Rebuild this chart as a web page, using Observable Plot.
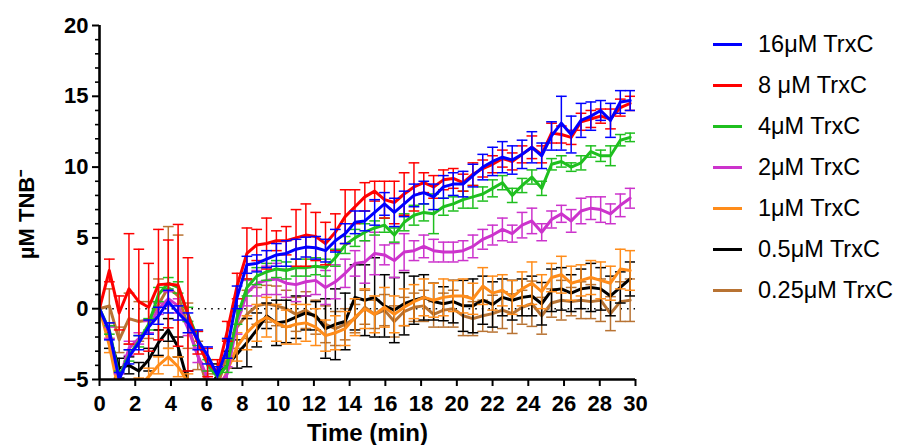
<!DOCTYPE html>
<html><head><meta charset="utf-8">
<script src="https://cdn.jsdelivr.net/npm/d3@7"></script>
<script src="https://cdn.jsdelivr.net/npm/@observablehq/plot@0.6"></script>
<style>
body{margin:0;background:#fff;font-family:"Liberation Sans",Arial,sans-serif;}
#wrap{position:relative;width:907px;height:445px;}
#legend{position:absolute;left:713px;top:24px;}
.row{display:flex;align-items:center;height:41px;}
.sw{width:29px;height:3px;margin-right:16px;}
.lb{font-size:23.5px;color:#000;white-space:nowrap;}
</style></head><body>
<div id="wrap"><div id="chart"></div><div id="legend"></div></div>
<script>
const times = [0,0.55,1.1,1.65,2.2,2.75,3.3,3.85,4.4,4.95,5.5,6.05,6.6,7.15,7.7,8.25,8.8,9.35,9.9,10.45,11,11.55,12.1,12.65,13.2,13.75,14.3,14.85,15.4,15.95,16.5,17.05,17.6,18.15,18.7,19.25,19.8,20.35,20.9,21.45,22,22.55,23.1,23.65,24.2,24.75,25.3,25.85,26.4,26.95,27.5,28.05,28.6,29.15,29.7];

const seriesNames = ["16μM TrxC","8 μM TrxC","4μM TrxC","2μM TrxC","1μM TrxC","0.5μM TrxC","0.25μM TrxC"];
const seriesColors = ["#0000ff","#ff0000","#1fbf1f","#cc33cc","#ff8c1a","#000000","#b87333"];

const trx16Mean = [0,-1.6,-5.0,-3.4,-2.4,-1.3,-0.5,0.5,-0.3,-1.0,-2.2,
  -3.3,-4.7,-2.8,0.8,3.1,3.2,3.5,3.8,3.9,4.2,4.35,
  4.3,4.1,4.8,5.3,6.1,6.2,6.8,7.4,6.8,7.4,8.0,
  8.2,7.9,8.6,8.8,8.8,9.4,10.0,10.4,10.7,10.5,10.9,
  11.4,10.8,12.2,13.1,12.3,13.3,13.6,14.0,13.3,14.6,14.7];
const trx16Sem = [0,0.6,0.5,0.5,0.5,0.5,0.6,0.8,0.5,0.7,0.7,
  0.6,0.6,0.7,0.8,0.6,0.6,0.6,0.8,0.9,0.7,0.7,
  0.8,0.8,0.8,0.7,0.8,0.7,0.9,0.8,1.0,0.9,0.8,
  0.8,0.9,0.8,0.8,0.9,0.8,0.9,1.0,1.1,1.0,1.0,
  1.1,0.9,1.0,1.9,1.3,1.2,1.0,0.7,1.2,0.8,0.7];

const trx8Mean = [0,2.7,-0.3,1.4,0.5,0.1,1.7,1.75,1.65,-0.4,-2.4,
  -3.8,-4.5,-1.6,1.6,3.9,4.5,4.6,4.8,4.8,5.0,5.2,
  5.1,4.6,5.4,6.5,7.2,7.9,8.3,7.7,7.5,8.1,8.6,
  8.9,8.6,9.1,9.2,8.9,9.5,9.9,10.2,10.6,10.4,10.9,
  11.4,10.9,12.4,12.3,12.1,13.2,13.4,13.6,13.4,14.2,14.5];
const trx8Sem = [0,0.8,1.2,3.9,3.7,3.1,3.9,3.1,4.3,4.0,0.8,
  1.0,0.9,0.7,0.9,1.8,1.1,1.8,0.7,1.0,2.0,2.2,
  1.7,1.5,1.3,1.9,1.2,1.0,0.7,1.3,1.5,1.5,1.7,
  0.7,0.8,0.7,0.7,0.6,0.8,0.6,0.6,0.6,0.6,0.6,
  0.8,0.6,0.7,0.6,0.5,0.6,0.6,0.5,0.7,0.6,0.5];

const trx4Mean = [0,-1.5,-4.8,-3.3,-2.3,-1.1,1.0,1.8,1.5,-0.4,-2.1,
  -4.0,-4.8,-4.0,-0.6,1.5,2.3,2.6,2.8,2.7,2.9,2.9,
  3.0,2.9,3.6,4.5,5.0,5.4,5.7,5.9,5.2,6.1,6.6,
  6.8,6.7,7.2,7.4,7.7,7.9,8.1,8.5,8.9,8.0,8.7,
  9.3,8.5,10.2,10.4,10.0,10.3,11.1,10.8,10.8,11.9,12.1];
const trx4Sem = [0,0.3,0.4,0.4,0.4,0.4,0.5,0.4,0.4,0.5,0.5,
  0.4,0.3,0.5,0.5,0.6,0.6,0.6,0.6,0.6,0.6,0.6,
  0.6,0.6,0.6,0.6,0.6,0.6,0.5,0.5,0.5,0.6,0.7,
  0.6,1.4,0.6,0.5,0.6,0.8,0.5,0.6,0.5,0.5,0.5,
  0.5,0.5,0.4,0.4,0.3,0.5,0.4,0.4,0.7,0.4,0.3];

const trx2Mean = [0,-1.7,-5.0,-2.8,-2.1,-1.3,0.0,0.7,0.2,-1.4,-3.3,
  -4.9,-5.5,-4.6,-1.0,1.1,1.8,2.0,2.1,1.8,1.7,1.9,
  2.0,1.5,1.9,2.5,3.2,3.3,3.9,3.8,3.4,4.0,4.1,
  4.4,4.1,4.0,4.0,4.1,4.4,4.9,5.2,5.6,5.3,5.9,
  6.2,5.4,6.3,6.7,6.2,6.9,7.1,7.0,6.7,7.3,7.8];
const trx2Sem = [0,0.4,0.4,0.5,0.4,0.4,0.4,0.5,0.5,0.5,0.5,
  0.5,0.5,0.5,0.8,0.9,0.9,1.0,1.1,1.0,1.2,1.0,
  1.0,1.2,1.2,1.0,0.9,1.5,1.5,0.7,1.2,1.3,0.7,
  0.8,0.8,0.7,0.7,0.7,0.8,0.7,0.7,0.8,0.6,0.9,
  0.9,0.6,0.6,0.6,0.8,0.9,0.8,0.9,0.7,0.8,0.7];

const trx1Mean = [0,-2.6,-6.0,-6.0,-5.5,-4.8,-4.0,-3.4,-4.1,-5.2,-6.0,
  -6.0,-6.0,-4.4,-2.7,-1.7,-1.0,-0.6,-1.0,-1.3,-1.1,-1.0,
  -1.3,-1.9,-1.7,-1.4,-0.6,0.0,-0.4,0.1,-0.4,0.1,0.5,
  0.8,0.6,0.8,0.9,0.9,0.7,1.6,1.1,1.3,0.8,1.4,
  1.8,1.2,2.2,2.4,1.8,2.0,2.2,2.0,1.8,2.8,2.7];
const trx1Sem = [0,0.5,0.5,0.5,0.6,0.6,0.6,0.6,0.7,0.6,0.5,
  0.5,0.5,0.8,1.0,1.2,1.3,1.4,1.3,1.2,1.4,1.3,
  1.3,1.1,1.2,1.2,1.3,1.4,1.3,1.4,1.3,1.3,1.2,
  1.3,1.2,1.3,1.1,1.2,1.1,1.3,1.2,1.1,1.2,1.2,
  1.5,1.2,1.0,1.3,1.2,1.1,1.2,1.3,1.2,1.4,1.4];

const trx05Mean = [0,-2.0,-4.2,-4.0,-4.4,-3.6,-2.4,-1.5,-2.7,-5.2,-5.8,
  -5.8,-4.7,-4.0,-3.2,-2.4,-1.5,-0.5,-1.0,-0.9,-0.6,-0.3,
  -0.5,-1.4,-1.1,-0.9,0.8,0.6,0.8,0.2,-0.1,0.35,0.6,
  0.8,0.5,0.35,0.5,0.2,0.2,0.6,0.3,0.8,0.6,0.8,
  0.9,0.35,1.3,1.4,1.1,1.4,1.5,1.4,0.9,1.5,2.1];
const trx05Sem = [0,0.8,0.7,0.6,0.6,0.8,0.9,0.8,0.7,0.8,0.8,
  0.8,0.8,1.0,1.0,1.7,1.2,0.9,1.6,1.5,1.5,1.2,
  1.0,2.1,2.5,2.0,2.3,2.5,2.8,2.2,2.3,2.2,1.7,
  1.6,1.3,1.2,1.5,1.8,1.9,1.7,1.6,1.3,1.4,1.3,
  1.4,1.5,1.5,1.5,1.3,1.4,1.7,1.5,1.4,1.1,1.2];

const trx025Mean = [0,0.2,-2.2,-0.7,-0.9,-0.8,0.3,1.5,0.9,-1.2,-3.3,
  -5.5,-5.5,-3.2,-1.3,-0.4,0.2,0.35,0.2,0.0,-0.4,-0.1,
  -0.6,-1.1,-1.4,-1.1,-0.7,0.1,-0.4,-0.1,-0.9,-0.2,0.1,
  0.2,-0.4,-0.1,0.0,-0.5,-0.7,-0.5,-0.35,-0.1,-0.35,0.1,
  0.35,-0.5,0.4,0.6,0.5,0.6,0.5,0.6,-0.35,0.5,0.6];
const trx025Sem = [0,1.2,0.9,1.8,1.4,1.3,1.8,4.3,4.3,1.6,1.0,
  0.9,0.9,1.0,1.5,1.7,1.3,1.3,1.4,1.3,1.2,1.3,
  1.2,1.3,1.2,1.1,1.0,1.2,1.0,1.1,1.1,1.0,1.0,
  1.1,0.9,1.2,1.3,1.4,1.2,1.1,1.3,1.3,1.4,1.2,
  1.6,1.3,1.0,1.4,1.0,1.3,1.2,1.5,1.2,1.4,1.5];

const yTicks = [-5,0,5,10,15,20];
const yMinorTicks = [-4,-3,-2,-1,1,2,3,4,6,7,8,9,11,12,13,14,16,17,18,19];
const xTicks = [0,2,4,6,8,10,12,14,16,18,20,22,24,26,28,30];
const xTitle = "Time (min)";
const yTitle = "µM TNB⁻";

const means = [trx16Mean,trx8Mean,trx4Mean,trx2Mean,trx1Mean,trx05Mean,trx025Mean];
const sems = [trx16Sem,trx8Sem,trx4Sem,trx2Sem,trx1Sem,trx05Sem,trx025Sem];
const rows = [];
seriesNames.forEach((s,i)=>times.forEach((t,j)=>rows.push({series:s,t,v:means[i][j],e:sems[i][j]})));
const capHalf = 0.3;

const marks = [Plot.ruleY([0],{stroke:"#000",strokeWidth:1.6,strokeDasharray:"1.6,5"})];
for (const s of seriesNames.slice().reverse()) {
  const ln = rows.filter(d=>d.series===s);
  const er = ln.filter(d=>d.e>0);
  marks.push(Plot.ruleX(er,{x:"t",y1:d=>d.v-d.e,y2:d=>d.v+d.e,stroke:"series",strokeWidth:1.5,clip:true}));
  marks.push(Plot.link(er,{x1:d=>d.t-capHalf,x2:d=>d.t+capHalf,y1:d=>d.v+d.e,y2:d=>d.v+d.e,stroke:"series",strokeWidth:1.5,clip:true}));
  marks.push(Plot.link(er,{x1:d=>d.t-capHalf,x2:d=>d.t+capHalf,y1:d=>d.v-d.e,y2:d=>d.v-d.e,stroke:"series",strokeWidth:1.5,clip:true}));
  marks.push(Plot.line(ln,{x:"t",y:"v",stroke:"series",strokeWidth:3,clip:true}));
}
marks.push(
  Plot.axisY({ticks:yMinorTicks,tickSize:4,strokeWidth:1.6,tickFormat:()=>"",label:null}),
  Plot.axisY({ticks:yTicks,tickSize:7,tickPadding:4,strokeWidth:2,fontSize:22,fontWeight:"bold",label:null}),
  Plot.axisX({ticks:xTicks,tickSize:7,tickPadding:9,strokeWidth:2,fontSize:22,fontWeight:"bold",label:null}),
  Plot.ruleX([0],{strokeWidth:2.6}),
  Plot.ruleY([-5],{strokeWidth:2.6}),
  Plot.text([xTitle],{frameAnchor:"bottom",lineAnchor:"bottom",dy:61,fontSize:24,fontWeight:"bold"}),
  Plot.text([yTitle],{frameAnchor:"left",textAnchor:"middle",lineAnchor:"middle",dx:-73,dy:12,rotate:-90,fontSize:22,fontWeight:"bold"})
);

const chart = Plot.plot({
  width:907,height:445,
  marginLeft:99,marginRight:272,marginTop:25,marginBottom:66,
  x:{domain:[0,30]},
  y:{domain:[-5,20]},
  color:{domain:seriesNames,range:seriesColors},
  style:{fontFamily:"'Liberation Sans', Arial, sans-serif",color:"#000",background:"#fff"},
  marks
});
document.getElementById("chart").appendChild(chart);

const leg = document.getElementById("legend");
seriesNames.forEach((s,i)=>{
  const r = document.createElement("div"); r.className="row";
  const sw = document.createElement("div"); sw.className="sw"; sw.style.background=seriesColors[i];
  const lb = document.createElement("div"); lb.className="lb"; lb.textContent=s;
  r.appendChild(sw); r.appendChild(lb); leg.appendChild(r);
});
</script>
</body></html>
